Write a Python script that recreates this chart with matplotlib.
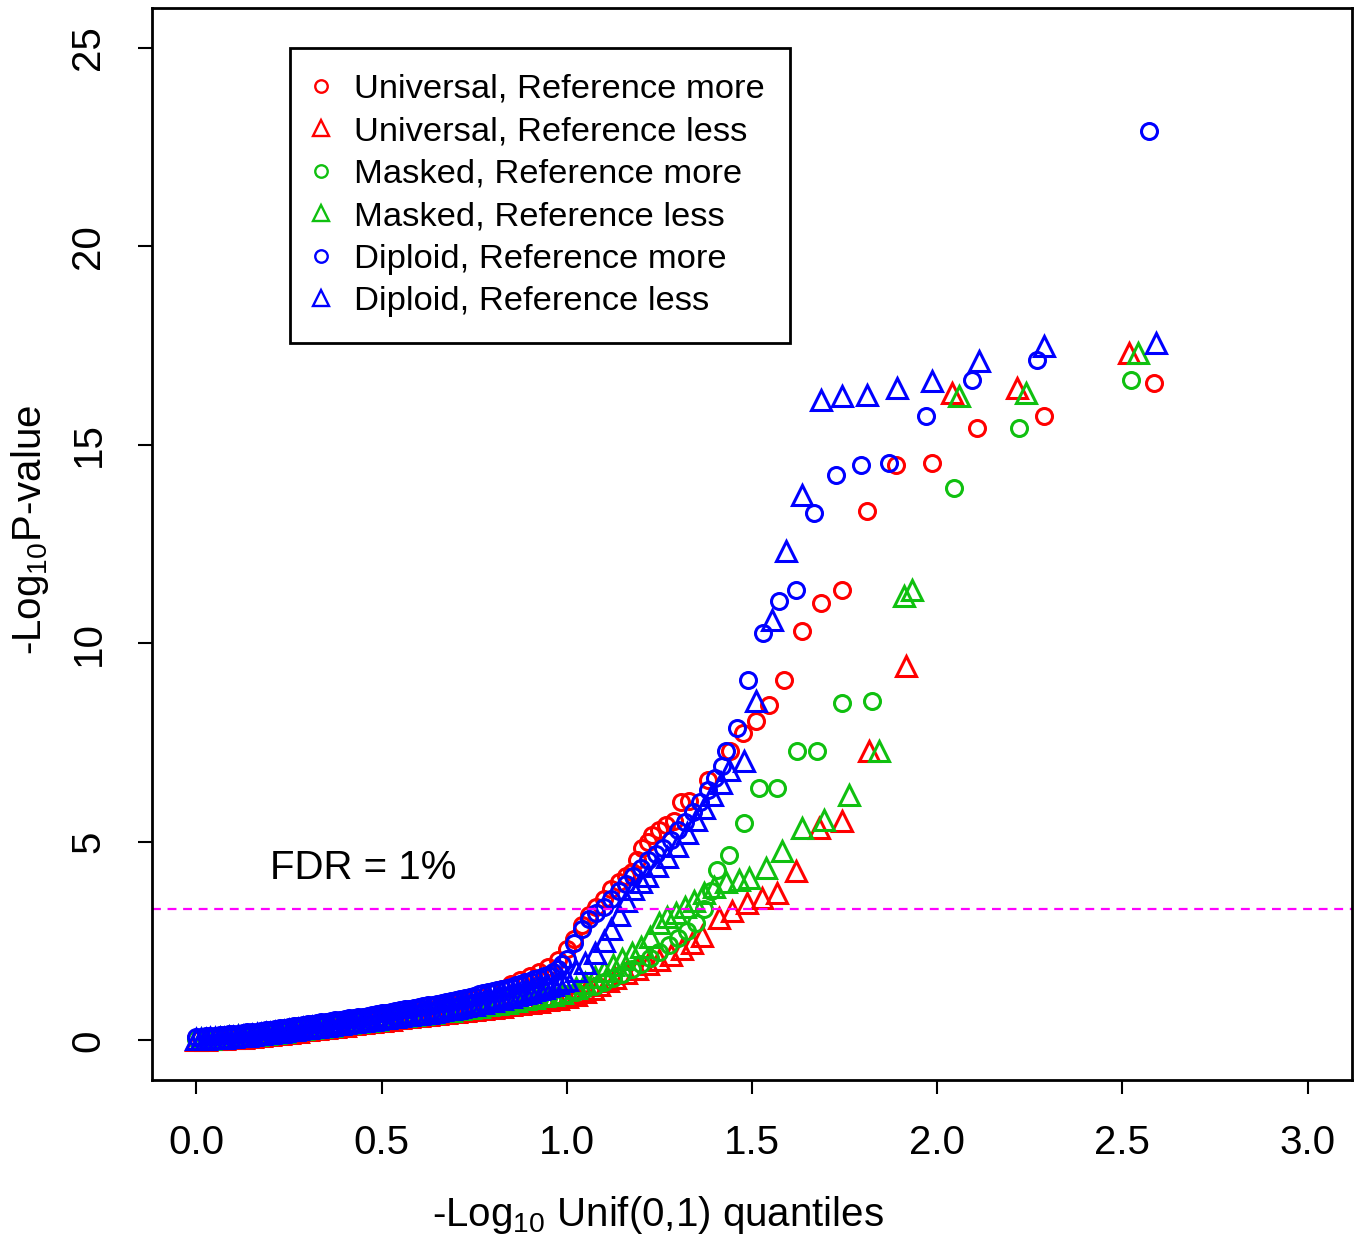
import matplotlib
matplotlib.use("Agg")
import matplotlib.pyplot as plt
from matplotlib.lines import Line2D

plt.rcParams["font.family"] = ["Liberation Sans", "DejaVu Sans"]
plt.rcParams["mathtext.fontset"] = "custom"
plt.rcParams["mathtext.rm"] = "Liberation Sans"
plt.rcParams["mathtext.it"] = "Liberation Sans"

# expected quantiles used for the dense lower part of the series
q_bulk = [0.0, 0.025, 0.05, 0.075, 0.1, 0.125, 0.15, 0.175, 0.2, 0.225,
          0.25, 0.275, 0.3, 0.325, 0.35, 0.375, 0.4, 0.425, 0.45, 0.475,
          0.5, 0.525, 0.55, 0.575, 0.6, 0.625, 0.65, 0.675, 0.7, 0.725,
          0.75, 0.775, 0.8, 0.825, 0.85, 0.875, 0.9, 0.925, 0.95, 0.975, 1.0]
q_half = [0.0125, 0.0375, 0.0625, 0.0875, 0.1125, 0.1375, 0.1625, 0.1875,
          0.2125, 0.2375, 0.2625, 0.2875, 0.3125, 0.3375, 0.3625, 0.3875,
          0.4125, 0.4375, 0.4625, 0.4875, 0.5125, 0.5375, 0.5625, 0.5875,
          0.6125, 0.6375, 0.6625, 0.6875, 0.7125, 0.7375, 0.7625, 0.7875,
          0.8125, 0.8375, 0.8625, 0.8875, 0.9125, 0.9375, 0.9625, 0.9875]

# Universal, Reference more
univ_more_bulk = [0.05, 0.06, 0.07, 0.09, 0.11, 0.13, 0.15, 0.18, 0.21, 0.24,
                  0.27, 0.30, 0.33, 0.36, 0.39, 0.42, 0.45, 0.48, 0.52, 0.55,
                  0.59, 0.62, 0.66, 0.70, 0.74, 0.78, 0.82, 0.87, 0.92, 0.97,
                  1.03, 1.10, 1.20, 1.30, 1.42, 1.52, 1.62, 1.72, 1.84, 2.02, 2.30]
univ_more_tx = [1.02, 1.04, 1.06, 1.08, 1.10, 1.12, 1.14, 1.16, 1.176, 1.19,
                1.203, 1.218, 1.23, 1.25, 1.268, 1.29, 1.308, 1.33, 1.38, 1.44,
                1.475, 1.511, 1.546, 1.586, 1.635, 1.686, 1.743, 1.811, 1.889,
                1.986, 2.108, 2.289, 2.586]
univ_more_ty = [2.55, 2.90, 3.15, 3.35, 3.55, 3.80, 4.00, 4.15, 4.25, 4.55,
                4.84, 5.00, 5.16, 5.30, 5.42, 5.52, 6.00, 6.02, 6.55, 7.28,
                7.75, 8.04, 8.44, 9.07, 10.30, 11.01, 11.34, 13.32, 14.48,
                14.53, 15.42, 15.72, 16.55]

# Universal, Reference less
univ_less_bulk = [0.01, 0.02, 0.03, 0.04, 0.05, 0.07, 0.09, 0.11, 0.13, 0.16,
                  0.19, 0.22, 0.25, 0.28, 0.31, 0.34, 0.37, 0.40, 0.43, 0.46,
                  0.49, 0.52, 0.55, 0.58, 0.61, 0.63, 0.66, 0.68, 0.71, 0.73,
                  0.76, 0.79, 0.82, 0.85, 0.88, 0.91, 0.94, 0.97, 1.01, 1.05, 1.10]
univ_less_tx = [1.025, 1.05, 1.07, 1.086, 1.11, 1.13, 1.16, 1.19, 1.22, 1.25,
                1.28, 1.31, 1.338, 1.365, 1.411, 1.446, 1.486, 1.527, 1.568,
                1.619, 1.681, 1.743, 1.816, 1.916, 2.041, 2.216, 2.519]
univ_less_ty = [1.15, 1.22, 1.30, 1.40, 1.50, 1.58, 1.69, 1.80, 1.92, 2.02,
                2.15, 2.30, 2.45, 2.64, 3.07, 3.25, 3.45, 3.58, 3.70,
                4.26, 5.34, 5.52, 7.30, 9.42, 16.30, 16.42, 17.30]

# Masked, Reference more
mask_more_bulk = [0.03, 0.04, 0.05, 0.06, 0.08, 0.10, 0.12, 0.14, 0.17, 0.20,
                  0.23, 0.26, 0.29, 0.32, 0.35, 0.38, 0.41, 0.44, 0.47, 0.50,
                  0.53, 0.56, 0.59, 0.62, 0.65, 0.67, 0.70, 0.72, 0.75, 0.77,
                  0.80, 0.83, 0.86, 0.89, 0.92, 0.95, 0.99, 1.03, 1.07, 1.11, 1.16]
mask_more_tx = [1.025, 1.05, 1.075, 1.10, 1.125, 1.15, 1.175, 1.20, 1.225, 1.25,
                1.275, 1.30, 1.325, 1.35, 1.37, 1.39, 1.405, 1.438, 1.478, 1.519,
                1.568, 1.622, 1.676, 1.743, 1.824, 2.046, 2.222, 2.524]
mask_more_ty = [1.22, 1.30, 1.38, 1.47, 1.57, 1.68, 1.80, 1.93, 2.07, 2.22,
                2.40, 2.58, 2.75, 2.95, 3.30, 3.75, 4.28, 4.66, 5.47, 6.35,
                6.35, 7.28, 7.28, 8.49, 8.54, 13.90, 15.42, 16.62]

# Masked, Reference less (bulk read at the half-step quantiles)
mask_less_bulk = [0.03, 0.04, 0.06, 0.08, 0.10, 0.12, 0.14, 0.16, 0.19, 0.22,
                  0.25, 0.28, 0.31, 0.34, 0.37, 0.40, 0.43, 0.46, 0.49, 0.52,
                  0.55, 0.58, 0.61, 0.64, 0.67, 0.70, 0.73, 0.75, 0.78, 0.81,
                  0.84, 0.88, 0.91, 0.95, 0.99, 1.03, 1.07, 1.11, 1.15, 1.19]
mask_less_tx = [1.025, 1.05, 1.075, 1.10, 1.125, 1.15, 1.175, 1.20, 1.225, 1.249,
                1.27, 1.295, 1.319, 1.343, 1.37, 1.397, 1.43, 1.465, 1.492, 1.538,
                1.581, 1.635, 1.695, 1.762, 1.843, 1.911, 1.932, 2.059, 2.241, 2.541]
mask_less_ty = [1.32, 1.45, 1.60, 1.75, 1.90, 2.05, 2.20, 2.35, 2.60, 2.95,
                3.10, 3.20, 3.35, 3.50, 3.70, 3.85, 4.00, 4.05, 4.08, 4.33,
                4.76, 5.34, 5.54, 6.17, 7.30, 11.18, 11.34, 16.22, 16.30, 17.30]

# Diploid, Reference more: bulk at q_bulk and at q_half, then the tail
dipl_more_bulk = [0.08, 0.10, 0.12, 0.14, 0.16, 0.18, 0.21, 0.24, 0.27, 0.30,
                  0.33, 0.36, 0.40, 0.43, 0.46, 0.50, 0.53, 0.56, 0.60, 0.64,
                  0.68, 0.72, 0.76, 0.80, 0.84, 0.88, 0.92, 0.97, 1.02, 1.07,
                  1.12, 1.19, 1.25, 1.30, 1.35, 1.42, 1.50, 1.57, 1.65, 1.80, 2.05]
dipl_more_half = [0.09, 0.11, 0.13, 0.15, 0.17, 0.20, 0.22, 0.25, 0.28, 0.31,
                  0.35, 0.38, 0.41, 0.45, 0.48, 0.51, 0.55, 0.58, 0.62, 0.66,
                  0.70, 0.74, 0.78, 0.82, 0.86, 0.90, 0.95, 1.00, 1.05, 1.10,
                  1.16, 1.22, 1.28, 1.33, 1.39, 1.46, 1.54, 1.61, 1.72, 1.92]
dipl_more_tx = [1.02, 1.04, 1.06, 1.08, 1.10, 1.12, 1.14, 1.16, 1.18, 1.20,
                1.22, 1.24, 1.26, 1.28, 1.30, 1.32, 1.34, 1.36, 1.38, 1.40,
                1.42, 1.43, 1.46, 1.49, 1.53, 1.573, 1.62, 1.668, 1.727, 1.795,
                1.87, 1.97, 2.095, 2.27, 2.573]
dipl_more_ty = [2.45, 2.80, 3.05, 3.20, 3.35, 3.55, 3.75, 3.95, 4.15, 4.35,
                4.53, 4.70, 4.85, 5.05, 5.30, 5.50, 5.75, 6.00, 6.30, 6.60,
                6.90, 7.30, 7.86, 9.07, 10.25, 11.06, 11.34, 13.27, 14.23, 14.48,
                14.53, 15.72, 16.62, 17.13, 22.90]

# Diploid, Reference less: bulk at q_half and at q_bulk, then the tail
dipl_less_half = [0.04, 0.05, 0.06, 0.08, 0.10, 0.12, 0.15, 0.18, 0.21, 0.24,
                  0.27, 0.30, 0.33, 0.36, 0.39, 0.42, 0.45, 0.48, 0.51, 0.54,
                  0.57, 0.60, 0.63, 0.66, 0.69, 0.72, 0.76, 0.80, 0.84, 0.88,
                  0.93, 0.98, 1.03, 1.08, 1.13, 1.19, 1.26, 1.33, 1.40, 1.49]
dipl_less_bulk = [0.03, 0.04, 0.05, 0.07, 0.09, 0.11, 0.13, 0.16, 0.19, 0.22,
                  0.25, 0.28, 0.31, 0.34, 0.37, 0.40, 0.43, 0.46, 0.49, 0.52,
                  0.55, 0.58, 0.61, 0.64, 0.67, 0.70, 0.74, 0.78, 0.82, 0.86,
                  0.90, 0.95, 1.00, 1.05, 1.10, 1.16, 1.22, 1.29, 1.36, 1.44, 1.53]
dipl_less_tx = [1.025, 1.05, 1.075, 1.10, 1.12, 1.14, 1.16, 1.18, 1.20, 1.216,
                1.243, 1.27, 1.297, 1.324, 1.349, 1.37, 1.392, 1.416, 1.438, 1.478,
                1.511, 1.554, 1.592, 1.635, 1.686, 1.743, 1.811, 1.892, 1.986,
                2.114, 2.289, 2.592]
dipl_less_ty = [1.75, 1.95, 2.20, 2.50, 2.80, 3.15, 3.50, 3.80, 4.00, 4.13,
                4.38, 4.63, 4.89, 5.21, 5.54, 5.84, 6.17, 6.47, 6.80, 7.03,
                8.54, 10.58, 12.32, 13.73, 16.12, 16.22, 16.25, 16.42, 16.60,
                17.10, 17.48, 17.56]

labels = ["Universal, Reference more", "Universal, Reference less",
          "Masked, Reference more", "Masked, Reference less",
          "Diploid, Reference more", "Diploid, Reference less"]
colors = ["red", "red", "#10c010", "#10c010", "blue", "blue"]
markers = ["o", "^", "o", "^", "o", "^"]

series = [
    (q_bulk, univ_more_bulk, univ_more_tx, univ_more_ty),
    (q_bulk, univ_less_bulk, univ_less_tx, univ_less_ty),
    (q_bulk, mask_more_bulk, mask_more_tx, mask_more_ty),
    (q_half, mask_less_bulk, mask_less_tx, mask_less_ty),
    (q_bulk + q_half, dipl_more_bulk + dipl_more_half, dipl_more_tx, dipl_more_ty),
    (q_half + q_bulk, dipl_less_half + dipl_less_bulk, dipl_less_tx, dipl_less_ty),
]

fdr_cut = 3.32

circ_ms, tri_ms, mew = 11.5, 15.0, 2.2

fig = plt.figure(figsize=(13.59, 12.39), dpi=100)
ax = fig.add_axes([0.1118, 0.1283, 0.8831, 0.8652])

for (qx, bulk, tx, ty), col, mk in zip(series, colors, markers):
    xs = qx + tx
    ys = bulk + ty
    ms = circ_ms if mk == "o" else tri_ms
    ax.plot(xs, ys, linestyle="none", marker=mk, markersize=ms,
            markerfacecolor="none", markeredgecolor=col, markeredgewidth=mew)

ax.axhline(fdr_cut, color="magenta", linestyle=(0, (4, 3)), linewidth=1.6)
ax.text(0.2, 4.33, "FDR = 1%", fontsize=29, ha="left", va="center")

ax.set_xlim(-0.12, 3.12)
ax.set_ylim(-1.0, 26.0)
ax.set_xticks([0.0, 0.5, 1.0, 1.5, 2.0, 2.5, 3.0])
ax.set_xticklabels(["0.0", "0.5", "1.0", "1.5", "2.0", "2.5", "3.0"])
ax.set_yticks([0, 5, 10, 15, 20, 25])
ax.tick_params(axis="both", direction="out", length=10, width=1.5,
               labelsize=29, pad=22)
ax.tick_params(axis="y", labelrotation=90)
for lab in ax.get_yticklabels():
    lab.set_verticalalignment("center")
for sp in ax.spines.values():
    sp.set_linewidth(2)

handles = [Line2D([], [], linestyle="none", marker=mk,
                  markersize=(circ_ms if mk == "o" else tri_ms) * 0.78,
                  markerfacecolor="none", markeredgecolor=col,
                  markeredgewidth=1.7)
           for col, mk in zip(colors, markers)]
leg = ax.legend(handles, labels, loc="upper left",
                bbox_to_anchor=(0.115, 0.9627), fontsize=24.8,
                frameon=True, fancybox=False, edgecolor="black",
                framealpha=1, handlelength=0.3, handletextpad=0.8,
                labelspacing=0.33, borderpad=0.75, borderaxespad=0)
leg.get_frame().set_linewidth(2)

fig.text(658 / 1359, 1 - 1215 / 1239, r"-Log$_{10}$ Unif(0,1) quantiles",
         fontsize=29, ha="center", va="center")
fig.text(30 / 1359, 1 - 530 / 1239, r"-Log$_{10}$P-value",
         fontsize=29, ha="center", va="center", rotation=90)

fig.savefig("out.png", dpi=100)
